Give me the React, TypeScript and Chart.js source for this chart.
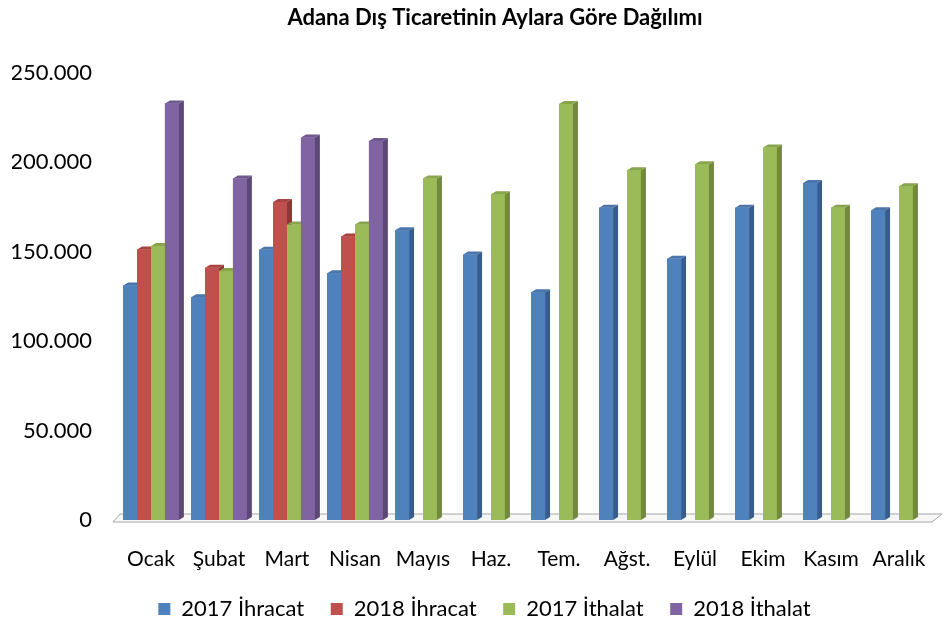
import React, { useEffect, useRef } from "react";
import { Chart, registerables } from "chart.js";

Chart.register(...registerables);

const TITLE = "Adana Dış Ticaretinin Aylara Göre Dağılımı";
const months = ["Ocak", "Şubat", "Mart", "Nisan", "Mayıs", "Haz.", "Tem.", "Ağst.", "Eylül", "Ekim", "Kasım", "Aralık"];
const seriesNames = ["2017 İhracat", "2018 İhracat", "2017 İthalat", "2018 İthalat"];
const ihracat2017 = [131200, 124600, 151200, 138000, 162000, 148500, 127400, 174700, 146100, 174700, 188500, 173200];
const ihracat2018 = [151300, 141100, 177800, 158600, null, null, null, null, null, null, null, null];
const ithalat2017 = [153300, 139200, 165300, 165300, 191000, 182200, 232600, 195600, 199000, 208300, 174700, 186600];
const ithalat2018 = [233000, 191000, 213900, 212000, null, null, null, null, null, null, null, null];
const yTicks = [0, 50000, 100000, 150000, 200000, 250000];

const FRONT = ["#4F81BD", "#C0504D", "#9BBB59", "#8064A2"];
const SIDE = ["#385D8A", "#8C3836", "#71893F", "#5C4776"];
const TOP = ["#4A76AB", "#A9433F", "#88A54D", "#6F5790"];
const FONT = "Lato, 'Open Sans', sans-serif";

const fmt = (v: number) => String(v).replace(/\B(?=(\d{3})+(?!\d))/g, ".");

const DX = 5;
const DY = 3;

const threeD = {
  id: "threeD",
  beforeDatasetsDraw(chart: any) {
    const { ctx, chartArea } = chart;
    const { left, right, bottom } = chartArea;
    ctx.save();
    ctx.beginPath();
    ctx.moveTo(left - 4, bottom + 2);
    ctx.lineTo(right - 1, bottom + 2);
    ctx.lineTo(right + 9, bottom - 6);
    ctx.lineTo(left + 3, bottom - 6);
    ctx.closePath();
    ctx.fillStyle = "#f7f7f7";
    ctx.fill();
    ctx.strokeStyle = "#a6a6a6";
    ctx.lineWidth = 1;
    ctx.stroke();
    ctx.restore();
  },
  afterDatasetsDraw(chart: any) {
    const ctx = chart.ctx;
    const n = chart.data.labels.length;
    const nd = chart.data.datasets.length;
    ctx.save();
    for (let i = 0; i < n; i++) {
      for (let d = 0; d < nd; d++) {
        const v = chart.data.datasets[d].data[i];
        const el = chart.getDatasetMeta(d).data[i];
        if (v == null || !el) continue;
        const { x, y, base, width } = el.getProps(["x", "y", "base", "width"], true);
        const l = x - width / 2;
        const r = x + width / 2;
        ctx.fillStyle = FRONT[d];
        ctx.fillRect(l, y, width, base - y);
        ctx.fillStyle = SIDE[d];
        ctx.beginPath();
        ctx.moveTo(r, y);
        ctx.lineTo(r + DX, y - DY);
        ctx.lineTo(r + DX, base - DY);
        ctx.lineTo(r, base);
        ctx.closePath();
        ctx.fill();
        ctx.fillStyle = TOP[d];
        ctx.beginPath();
        ctx.moveTo(l, y);
        ctx.lineTo(l + DX, y - DY);
        ctx.lineTo(r + DX, y - DY);
        ctx.lineTo(r, y);
        ctx.closePath();
        ctx.fill();
      }
    }
    ctx.restore();
  },
};

const titlePlugin = {
  id: "customTitle",
  afterDraw(chart: any) {
    const ctx = chart.ctx;
    ctx.save();
    ctx.font = `bold 22px ${FONT}`;
    ctx.fillStyle = "#000";
    ctx.textAlign = "center";
    ctx.textBaseline = "middle";
    ctx.fillText(TITLE, 487, 10);
    ctx.restore();
  },
};

const legendShift = {
  id: "legendShift",
  afterLayout(chart: any) {
    const lg = chart.legend;
    if (lg) {
      lg.left += 12;
      lg.right += 12;
    }
  },
};

export default function App() {
  const ref = useRef<HTMLCanvasElement>(null);
  useEffect(() => {
    let chart: any = null;
    let cancelled = false;
    const build = () => {
      if (cancelled || !ref.current) return;
      const data = [ihracat2017, ihracat2018, ithalat2017, ithalat2018];
      chart = new Chart(ref.current, {
        type: "bar",
        data: {
          labels: months,
          datasets: seriesNames.map((name, i) => ({
            label: name,
            data: data[i],
            backgroundColor: FRONT[i],
            borderWidth: 0,
            categoryPercentage: 0.82,
            barPercentage: 1.0,
          })),
        },
        options: {
          animation: false,
          responsive: false,
          maintainAspectRatio: false,
          layout: { padding: { top: 65, left: 4, right: 10, bottom: 0 } },
          plugins: {
            title: { display: false },
            tooltip: { enabled: false },
            legend: {
              position: "bottom",
              labels: {
                boxWidth: 12,
                boxHeight: 12,
                padding: 4,
                color: "#000",
                font: { family: FONT, size: 22 },
                generateLabels: (c: any) => {
                  const items = Chart.defaults.plugins.legend.labels.generateLabels(c);
                  return items.map((it: any, idx: number) => ({
                    ...it,
                    text: idx < items.length - 1 ? it.text + "\u00a0\u00a0\u00a0\u00a0" : it.text,
                    lineWidth: 0,
                  }));
                },
              },
            },
          },
          scales: {
            x: {
              grid: { display: false, drawTicks: true, tickLength: 27 },
              border: { display: false },
              afterFit: (scale: any) => {
                scale.height = 74;
              },
              ticks: {
                color: "#000",
                font: { family: FONT, size: 21 },
                padding: 0,
                maxRotation: 0,
              },
            },
            y: {
              min: 0,
              max: 250000,
              afterBuildTicks: (axis: any) => {
                axis.ticks = yTicks.map((v) => ({ value: v }));
              },
              afterFit: (scale: any) => {
                scale.width = 105;
              },
              grid: { display: false, drawTicks: false },
              border: { display: false },
              ticks: {
                color: "#000",
                font: { family: FONT, size: 22 },
                padding: 25,
                callback: (v: any) => fmt(Number(v)),
              },
            },
          },
        },
        plugins: [threeD, titlePlugin, legendShift],
      });
    };
    const fonts: any = (document as any).fonts;
    if (fonts && fonts.load) {
      Promise.all([
        fonts.load(`21px Lato`),
        fonts.load(`bold 22px Lato`),
      ]).then(build, build);
    } else {
      build();
    }
    return () => {
      cancelled = true;
      if (chart) chart.destroy();
    };
  }, []);
  return <canvas ref={ref} width={935} height={622} style={{ display: "block" }} />;
}
